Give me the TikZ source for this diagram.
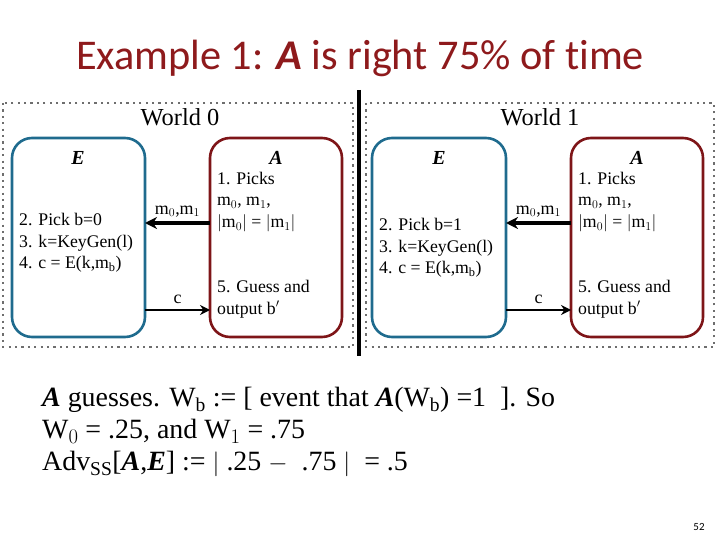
\documentclass[tikz,border=0pt]{standalone}
\usepackage{fontspec}
\setmainfont{Liberation Serif}
\newfontfamily\titlefont[Ligatures=NoCommon]{Carlito}
\usetikzlibrary{arrows.meta}
\definecolor{eblue}{HTML}{1F6B8E}
\definecolor{ared}{HTML}{7E1518}
\definecolor{ttl}{HTML}{8E1A1C}
\definecolor{dotgray}{HTML}{6E6E6E}
\tikzset{
  world/.style={draw=dotgray, line width=2.2bp, dash pattern=on 2.2bp off 4.2bp},
  ebox/.style={draw=eblue, line width=2.6bp, rounded corners=20bp},
  abox/.style={draw=ared, line width=2.6bp, rounded corners=20bp},
  body/.style={font=\fontsize{17.8}{21.8}\selectfont, align=left, inner sep=0pt},
  lbl/.style={font=\fontsize{18}{20}\selectfont, inner sep=0pt},
  thickarrow/.style={line width=4bp, -{Stealth[length=12bp,width=12bp]}},
  thinarrow/.style={line width=2.6bp, -{Stealth[length=10bp,width=10bp]}},
}
\begin{document}
\begin{tikzpicture}[x=1bp,y=-1bp]
\useasboundingbox (0,0) rectangle (720,540);
\node (title) at (360,58) {\titlefont\fontsize{42.5}{45}\selectfont\color{ttl}Example 1: \textbf{\textit{A}} is right 75\% of t\kern0pt ime};
% worlds
\draw[world] (3,103) rectangle (353,347);
\draw[world] (366,103) rectangle (714,347);
\node (w0) at (180,117) {\fontsize{24.5}{26}\selectfont World 0};
\node (w1) at (540,117) {\fontsize{24.5}{26}\selectfont World 1};
\draw[line width=4bp] (359,90) -- (359,356);
% world 0 boxes
\draw[ebox] (12,138) rectangle (145,337);
\draw[abox] (210,138) rectangle (342,337);
\coordinate (e0r1) at (145,223);
\coordinate (a0l1) at (210,223);
\coordinate (e0r2) at (145,310);
\coordinate (a0l2) at (210,310);
\node[lbl, font=\fontsize{20}{22}\selectfont] (e0t) at (78,158) {\textbf{\textit{E}}};
\node[lbl, font=\fontsize{20}{22}\selectfont] (a0t) at (276,158) {\textbf{\textit{A}}};
\node[body, anchor=west] (e0b) at (19,243) {2. Pick b=0\\3. k=KeyGen(l)\\4. c = E(k,m$_{\mathrm{b}}$)};
\node[body, anchor=west] (a0b1) at (217,202) {1. Picks\\m$_0$, m$_1$,\\$|$m$_0|$ = $|$m$_1|$};
\node[body, anchor=west] (a0b2) at (217,299) {5. Guess and\\output b$'$};
\draw[thickarrow] (a0l1) -- (e0r1) node[midway, above=4bp, lbl] (m0) {m$_0$,m$_1$};
\draw[thinarrow] (e0r2) -- (a0l2) node[midway, above=5bp, lbl] (c0) {c};
% world 1 boxes
\draw[ebox] (372,138) rectangle (506,337);
\draw[abox] (571,138) rectangle (703,337);
\coordinate (e1r1) at (506,223);
\coordinate (a1l1) at (571,223);
\coordinate (e1r2) at (506,310);
\coordinate (a1l2) at (571,310);
\node[lbl, font=\fontsize{20}{22}\selectfont] (e1t) at (439,158) {\textbf{\textit{E}}};
\node[lbl, font=\fontsize{20}{22}\selectfont] (a1t) at (637,158) {\textbf{\textit{A}}};
\node[body, anchor=west] (e1b) at (379,248) {2. Pick b=1\\3. k=KeyGen(l)\\4. c = E(k,m$_{\mathrm{b}}$)};
\node[body, anchor=west] (a1b1) at (578,202) {1. Picks\\m$_0$, m$_1$,\\$|$m$_0|$ = $|$m$_1|$};
\node[body, anchor=west] (a1b2) at (578,299) {5. Guess and\\output b$'$};
\draw[thickarrow] (a1l1) -- (e1r1) node[midway, above=4bp, lbl] (m1) {m$_0$,m$_1$};
\draw[thinarrow] (e1r2) -- (a1l2) node[midway, above=5bp, lbl] (c1) {c};
% bottom text
\node[anchor=west, align=left, inner sep=0pt, font=\fontsize{28}{32.5}\selectfont] (bt) at (42,432)
 {\textbf{\textit{A}} guesses. W$_{\mathrm{b}}$ := [ event that \textbf{\textit{A}}(W$_{\mathrm{b}}$) =1~~]. So\\
  W$_0$ = .25, and W$_1$ = .75\\
  Adv$_{\mathrm{SS}}$[\textbf{\textit{A}},\textbf{\textit{E}}] := $|$ .25 $-$ ~.75 $|$ ~= .5};
\node (pg) at (699,527) {\titlefont\fontsize{11}{12}\selectfont 52};
\end{tikzpicture}
\end{document}
